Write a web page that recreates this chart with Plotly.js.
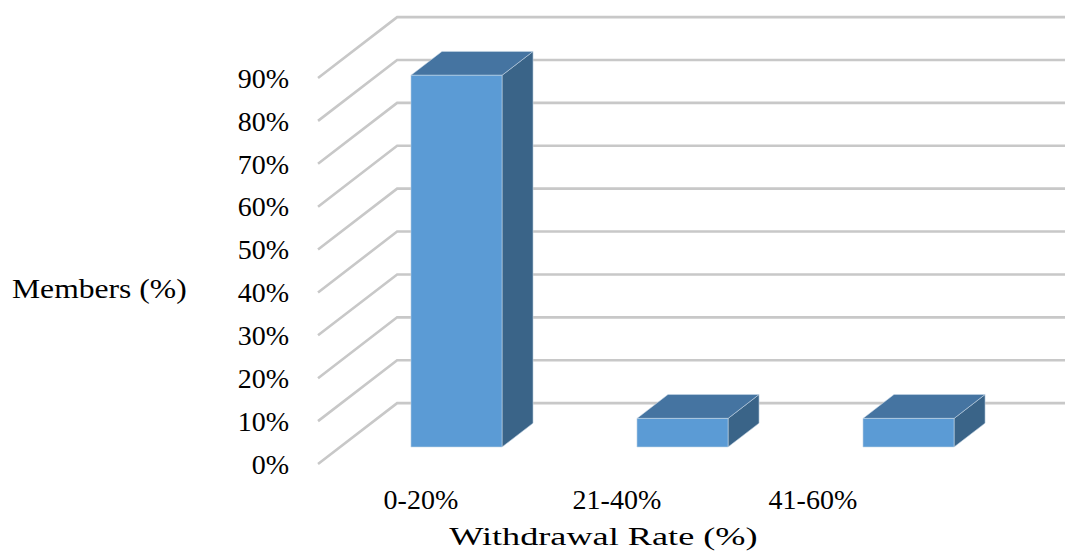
<!DOCTYPE html>
<html>
<head>
<meta charset="utf-8">
<script src="https://cdn.plot.ly/plotly-3.0.1.min.js"></script>
<style>
html,body{margin:0;padding:0;background:#ffffff;}
.annotation-text{transform-box:fill-box;transform-origin:center;}
</style>
</head>
<body>
<div id="chart" style="width:1065px;height:551px;"></div>
<script>
// Share of members by withdrawal rate band
const categories = ['0-20%', '21-40%', '41-60%'];
const members = [86.67, 6.67, 6.67];
const yTicks = [0, 10, 20, 30, 40, 50, 60, 70, 80, 90];

// Oblique "3-D" projection: depth z runs 0 (front edge) .. 1 (back wall)
const DEPTH_X = 0.35;      // horizontal shift of full depth, in category units
const DEPTH_Y = 14.2;      // vertical shift of full depth, in percent units
const WALL_X = -0.515;     // left wall position (front edge), category units
const X_RANGE = [-0.639, 2.79];
const X2_RANGE = [-0.668, 3.286];
const Y_RANGE = [-3.73, 108.19];
const BAR_W = 0.403;
const Z_FRONT = 0.279, Z_BACK = 0.671;

const FRONT = '#5b9bd5', TOP = '#4574a1', SIDE = '#3a6488';
const EDGE = 'rgba(200,215,230,0.7)';
const GRID = '#c8c8c8';
const FONT = 'Liberation Serif';

function proj(u, v, z) { return [u + z * DEPTH_X, v + z * DEPTH_Y]; }

function face(pts, col) {
  return {
    x: pts.map(p => p[0]).concat([pts[0][0]]),
    y: pts.map(p => p[1]).concat([pts[0][1]]),
    mode: 'lines', fill: 'toself', fillcolor: col,
    line: {color: EDGE, width: 0.8},
    hoverinfo: 'skip', showlegend: false
  };
}

const traces = [];

// wall gridlines: diagonal along the left wall, then across the back wall
const gx = [], gy = [];
yTicks.forEach(t => {
  const a = proj(WALL_X, t, 0), b = proj(WALL_X, t, 1);
  gx.push(a[0], b[0], X_RANGE[1] + 0.2, null);
  gy.push(a[1], b[1], b[1], null);
});
traces.push({x: gx, y: gy, mode: 'lines', line: {color: GRID, width: 2.6},
  hoverinfo: 'skip', showlegend: false});

// each bar as a box: side, top and front faces
members.forEach((v, i) => {
  const l = i - BAR_W / 2, r = i + BAR_W / 2;
  traces.push(face([proj(r, 0, Z_FRONT), proj(r, v, Z_FRONT), proj(r, v, Z_BACK), proj(r, 0, Z_BACK)], SIDE));
  traces.push(face([proj(l, v, Z_FRONT), proj(r, v, Z_FRONT), proj(r, v, Z_BACK), proj(l, v, Z_BACK)], TOP));
  traces.push(face([proj(l, 0, Z_FRONT), proj(r, 0, Z_FRONT), proj(r, v, Z_FRONT), proj(l, v, Z_FRONT)], FRONT));
});

// category label carrier on the label axis
traces.push({
  x: [0, 1, 2], y: [0, 0, 0], xaxis: 'x2', mode: 'markers',
  marker: {opacity: 0}, hoverinfo: 'skip', showlegend: false
});

const layout = {
  width: 1065, height: 551,
  margin: {l: 290, r: 0, t: 0, b: 71},
  paper_bgcolor: '#ffffff', plot_bgcolor: '#ffffff',
  showlegend: false,
  xaxis: {range: X_RANGE, showgrid: false, zeroline: false, showline: false,
    showticklabels: false, ticks: '', fixedrange: true},
  xaxis2: {range: X2_RANGE, overlaying: 'x', side: 'bottom', anchor: 'y',
    tickmode: 'array', tickvals: [0, 1, 2], ticktext: categories,
    showgrid: false, zeroline: false, showline: false, ticks: '',
    tickfont: {family: FONT, size: 28, color: '#000000'}, fixedrange: true},
  yaxis: {range: Y_RANGE, tickmode: 'array', tickvals: yTicks,
    ticktext: yTicks.map(t => t + '%'),
    showgrid: false, zeroline: false, showline: false, ticks: '',
    tickfont: {family: FONT, size: 28, color: '#000000'}, fixedrange: true},
  annotations: [
    {text: 'Members (%)', xref: 'paper', yref: 'paper', x: -0.2452, y: 0.398,
      xanchor: 'center', yanchor: 'middle', showarrow: false,
      font: {family: FONT, size: 28, color: '#000000'}},
    {text: 'Withdrawal Rate (%)', xref: 'paper', yref: 'paper', x: 0.4039, y: -0.119,
      xanchor: 'center', yanchor: 'middle', showarrow: false,
      font: {family: FONT, size: 25, color: '#000000'}}
  ]
};

// horizontal stretch of the two axis captions (wide lettering)
const CAPTION_STRETCH = [1.13, 1.45];

Plotly.newPlot('chart', traces, layout, {displayModeBar: false, staticPlot: true})
  .then(gd => {
    gd.querySelectorAll('.annotation-text').forEach((el, k) => {
      el.style.transform = 'scaleX(' + CAPTION_STRETCH[k] + ')';
    });
  });
</script>
</body>
</html>
